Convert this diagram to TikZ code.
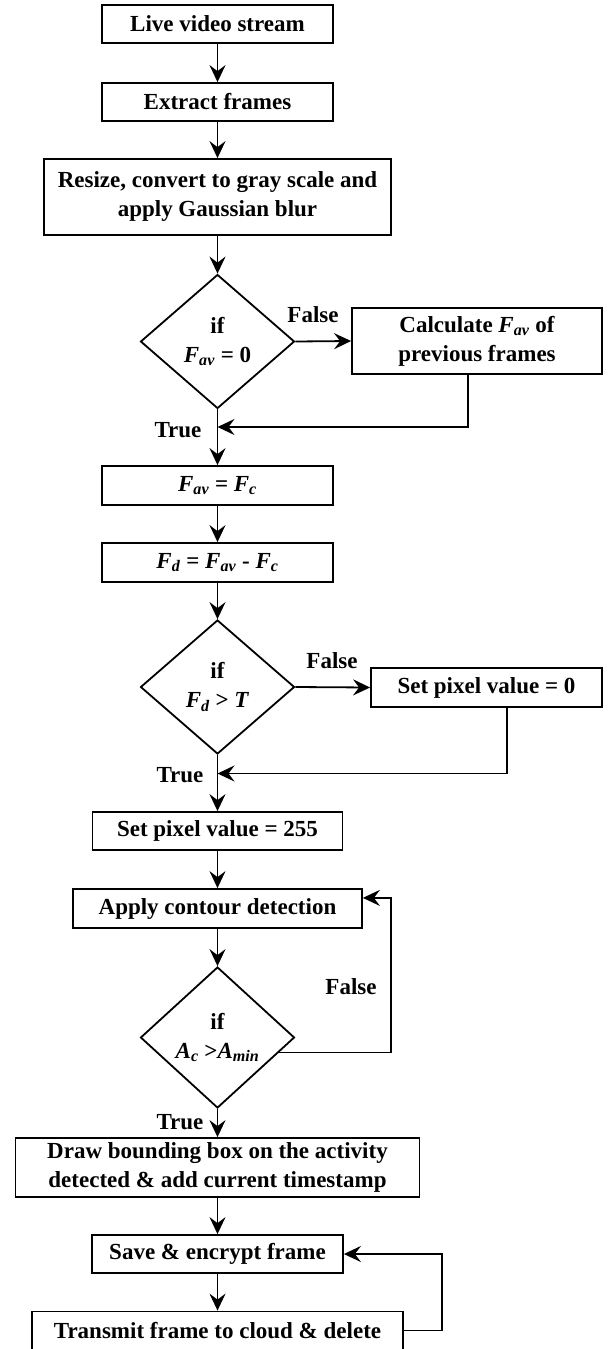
\documentclass[tikz,border=0pt]{standalone}
\usepackage{fontspec}
\setmainfont{Liberation Serif}
\usetikzlibrary{shapes.geometric,arrows.meta,calc}
\newcommand\sbx[1]{\textsubscript{#1}}
\begin{document}
\begin{tikzpicture}[x=1pt,y=-1pt,
  font=\fontsize{23}{29}\selectfont\bfseries,
  line width=1.8pt,
  box/.style={draw, rectangle, inner sep=0pt, align=center},
  dec/.style={draw, diamond, inner sep=0pt, minimum width=154pt, minimum height=134pt},
  lab/.style={inner sep=0pt},
  arr/.style={-{Stealth[length=17pt,width=16pt,inset=6pt]}}
]
\useasboundingbox (0,0) rectangle (612,1349);

\node[box, minimum width=231pt, minimum height=38pt] (b1) at (217.5,24) {Live video stream};
\node[box, minimum width=231pt, minimum height=38pt] (b2) at (217.5,102) {Extract frames};
\node[box, minimum width=347pt, minimum height=76pt] (b3) at (217.5,197) {Resize, convert to gray scale and\\apply Gaussian blur};
\node[dec, label={[align=center]center:if\\\textit{F}\sbx{\textit{av}} = 0}] (d1) at (217.5,341.5) {};
\node[box, minimum width=250pt, minimum height=66pt] (calc) at (477,341) {Calculate \textit{F}\sbx{\textit{av}} of\\previous frames};
\node[box, minimum width=231pt, minimum height=39pt] (b4) at (217.5,485.5) {\textit{F}\sbx{\textit{av}} = \textit{F}\sbx{\textit{c}}};
\node[box, minimum width=231pt, minimum height=39pt] (b5) at (217.5,562.5) {\textit{F}\sbx{\textit{d}} = \textit{F}\sbx{\textit{av}} - \textit{F}\sbx{\textit{c}}};
\node[dec, label={[align=center]center:if\\\textit{F}\sbx{\textit{d}} > \textit{T}}] (d2) at (217.5,687) {};
\node[box, minimum width=231pt, minimum height=39pt] (s0) at (486.5,687.5) {Set pixel value = 0};
\node[box, minimum width=250pt, minimum height=38pt] (s255) at (217.5,831) {Set pixel value = 255};
\node[box, minimum width=289pt, minimum height=39pt] (cont) at (217.5,908.5) {Apply contour detection};
\node[dec, minimum height=141pt, label={[align=center]center:if\\\textit{A}\sbx{\textit{c}} >\textit{A}\sbx{\textit{min}}}] (d3) at (217.5,1037.5) {};
\node[box, minimum width=404pt, minimum height=59pt] (bb) at (217.5,1167.5) {Draw bounding box on the activity\\detected \& add current timestamp};
\node[box, minimum width=251pt, minimum height=38pt] (save) at (217.5,1254) {Save \& encrypt frame};
\node[box, minimum width=371pt, minimum height=38pt] (tx) at (217.5,1330.5) {Transmit frame to cloud \& delete};

\node[lab] (f1) at (313,315) {False};
\node[lab] (tr1) at (178,430) {True};
\node[lab] (f2) at (332,661) {False};
\node[lab] (tr2) at (180,775) {True};
\node[lab] (f3) at (351,987) {False};
\node[lab] (tr3) at (180,1122) {True};

\draw[arr] (b1) -- (b2);
\draw[arr] (b2) -- (b3);
\draw[arr] (b3) -- (d1);
\draw[arr] (d1.east) -- (calc.west);
\draw[arr] (d1.south) -- (b4.north);
\coordinate (m1) at ($(calc.south)+(-9,0)$);
\coordinate (t1) at (217.5,427);
\draw[arr] (m1) |- (t1);

\draw[arr] (b4) -- (b5);
\draw[arr] (b5) -- (d2);
\draw[arr] (d2.east) -- (s0.west);
\draw[arr] (d2.south) -- (s255.north);
\coordinate (m2) at ($(s0.south)+(20.5,0)$);
\coordinate (t2) at (217.5,773.5);
\draw[arr] (m2) |- (t2);

\draw[arr] (s255) -- (cont);
\draw[arr] (cont) -- (d3);
\draw[arr] (d3.south) -- (bb.north);
\coordinate (c3a) at ($(d3.east)!0.21!(d3.south)$);
\coordinate (c3b) at ($(cont.north east)!0.24!(cont.south east)$);
\coordinate (k3) at (391,960);
\draw[arr] (c3a) -| (k3) |- (c3b);

\draw[arr] (bb) -- (save);
\draw[arr] (save) -- (tx);
\coordinate (k4) at (442,1290);
\draw[arr] (tx.east) -| (k4) |- (save.east);
\end{tikzpicture}
\end{document}
